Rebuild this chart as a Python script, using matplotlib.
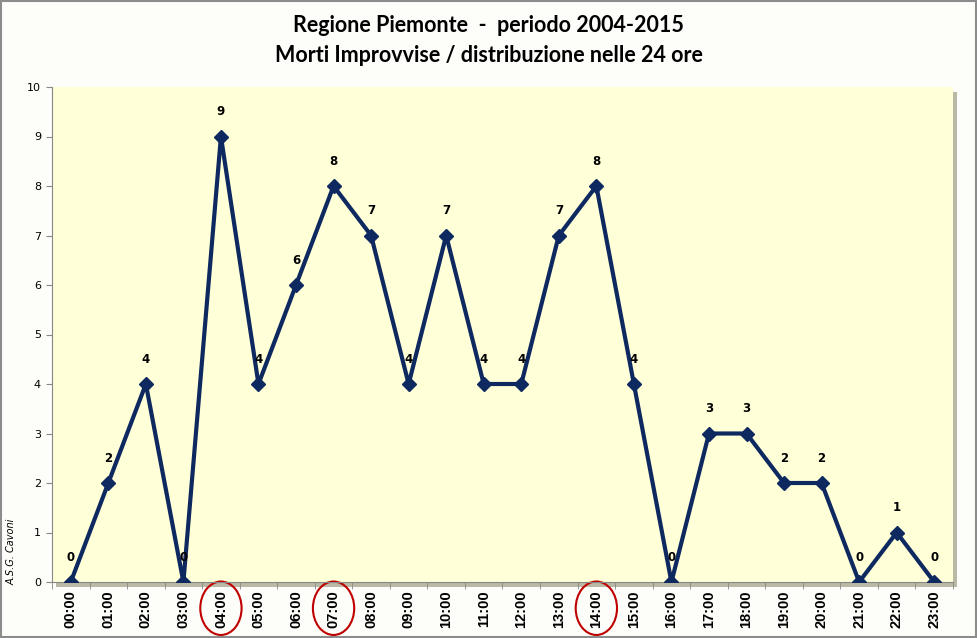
import matplotlib
matplotlib.use("Agg")
import matplotlib.pyplot as plt
from matplotlib.patches import Ellipse, Rectangle
import matplotlib.transforms as mtransforms

hours = ["00:00", "01:00", "02:00", "03:00", "04:00", "05:00", "06:00", "07:00",
         "08:00", "09:00", "10:00", "11:00", "12:00", "13:00", "14:00", "15:00",
         "16:00", "17:00", "18:00", "19:00", "20:00", "21:00", "22:00", "23:00"]
deaths = [0, 2, 4, 0, 9, 4, 6, 8, 7, 4, 7, 4, 4, 7, 8, 4, 0, 3, 3, 2, 2, 0, 1, 0]
highlighted = ["04:00", "07:00", "14:00"]
title_lines = ["Regione Piemonte  -  periodo 2004-2015",
               "Morti Improvvise / distribuzione nelle 24 ore"]
credit = "A.S.G. Cavoni"

W, H = 977, 638
fig = plt.figure(figsize=(W / 100, H / 100), dpi=100, facecolor="#FDFDF9")
L, R, T, B = 52, 953, 87, 582
ax = fig.add_axes([L / W, 1 - B / H, (R - L) / W, (B - T) / H])
ax.set_facecolor("#FFFFD8")

# shadow of plot area
fig.patches.append(Rectangle(((L + 4) / W, 1 - (B + 5) / H), (R - L) / W, (B - T) / H,
                             transform=fig.transFigure, facecolor="#A8A890",
                             edgecolor="none", zorder=-1, alpha=0.8))
# figure border
fig.patches.append(Rectangle((0.001, 0.001), 0.998, 0.998, transform=fig.transFigure,
                             fill=False, edgecolor="#8C8C8C", linewidth=1.5))

x = list(range(len(hours)))
ax.plot(x, deaths, color="#0E2960", linewidth=3, marker="D", markersize=7,
        markerfacecolor="#0E2960", markeredgecolor="#0E2960", zorder=3)
for xi, v in zip(x, deaths):
    ax.annotate(str(v), (xi, v), xytext=(0, 13), textcoords="offset points",
                ha="center", va="bottom", fontsize=8.5, fontweight="bold",
                color="black", family="DejaVu Sans")

ax.set_xlim(-0.5, len(hours) - 0.5)
ax.set_ylim(0, 10)
ax.set_yticks(range(0, 11))
ax.set_xticks(x)
ax.set_xticklabels(hours, rotation=90, fontsize=10.5, fontweight="bold",
                   family="Liberation Sans")
ax.set_xticks([i - 0.5 for i in range(len(hours) + 1)], minor=True)
ax.tick_params(axis="x", which="major", length=0, pad=6)
ax.tick_params(axis="x", which="minor", length=5, color="#888888")
ax.tick_params(axis="y", labelsize=8, length=4, color="#888888", pad=4)
for lab in ax.get_yticklabels():
    lab.set_family("DejaVu Sans")
for s in ["top", "right"]:
    ax.spines[s].set_visible(False)
ax.spines["left"].set_color("#888888")
ax.spines["bottom"].set_color("#888888")

trans = mtransforms.blended_transform_factory(ax.transData, ax.transAxes)
for hname in highlighted:
    i = hours.index(hname)
    ax.add_patch(Ellipse((i, -0.053), 1.1, 0.108, transform=trans, fill=False,
                         edgecolor="#C00000", linewidth=1.5, clip_on=False))

fig.text(0.5, 1 - 25 / H, title_lines[0], ha="center", va="center",
         fontsize=15.5, fontweight="bold", family="Lato")
fig.text(0.5, 1 - 55 / H, title_lines[1], ha="center", va="center",
         fontsize=15.5, fontweight="bold", family="Lato")
fig.text(12 / W, 1 - 585 / H, credit, rotation=90, ha="center", va="bottom",
         fontsize=7, style="italic", family="DejaVu Sans")

fig.savefig("out.png", dpi=100, facecolor=fig.get_facecolor())
